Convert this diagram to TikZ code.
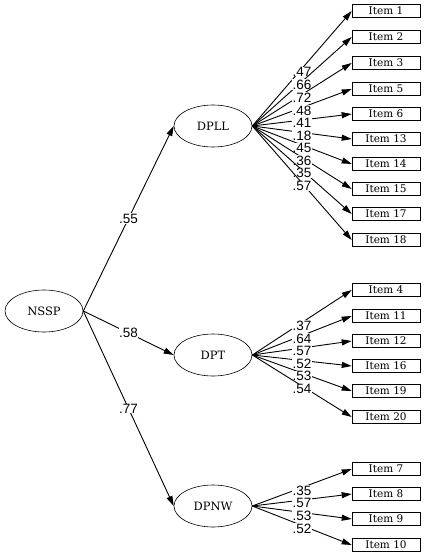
\documentclass[tikz,border=0pt]{standalone}
\usepackage{fontspec}
\setmainfont{DejaVu Serif}
\newfontfamily\lblfont{Liberation Sans}
\usetikzlibrary{arrows.meta,shapes.geometric}

\begin{document}
\begin{tikzpicture}[x=1pt, y=-1pt, line width=0.9pt,
  latent/.style={draw, ellipse, line width=0.6pt, minimum width=78pt, minimum height=42pt, inner sep=0pt, font=\fontsize{11.5}{13}\selectfont},
  item/.style={draw, rectangle, line width=0.6pt, minimum width=68pt, minimum height=13pt, inner sep=0pt, font=\fontsize{10.5}{12}\selectfont},
  arr/.style={-{Triangle[length=10pt,width=6pt]}},
  load/.style={midway, fill=white, inner sep=0.3pt, font=\fontsize{13.5}{15}\selectfont\lblfont}]
  \useasboundingbox (0,0) rectangle (425,554);
  \node[latent] (NSSP) at (44,311) {NSSP};
  \node[latent] (DPLL) at (213,126) {DPLL};
  \node[latent] (DPT)  at (213,355) {DPT};
  \node[latent] (DPNW) at (213,506) {DPNW};
  \draw[arr] (NSSP.east) -- node[load] {.55} (DPLL.west);
  \draw[arr] (NSSP.east) -- node[load] {.58} (DPT.west);
  \draw[arr] (NSSP.east) -- node[load] {.77} (DPNW.west);
  \foreach \n/\y/\w in {1/11/.47, 2/37/.66, 3/63/.72, 5/89/.48, 6/114/.41,
      13/139/.18, 14/164/.45, 15/189/.36, 17/214/.35, 18/240/.57} {
    \node[item] (i\n) at (386,\y) {Item \n};
    \draw[arr] (DPLL.east) -- node[load, yshift=-3pt] {\w} (i\n.west);
  }
  \foreach \n/\y/\w in {4/290/.37, 11/316/.64, 12/341/.57, 16/366/.52,
      19/391/.53, 20/417/.54} {
    \node[item] (i\n) at (386,\y) {Item \n};
    \draw[arr] (DPT.east) -- node[load, yshift=-3pt] {\w} (i\n.west);
  }
  \foreach \n/\y/\w in {7/469/.35, 8/494/.57, 9/519/.53, 10/545/.52} {
    \node[item] (i\n) at (386,\y) {Item \n};
    \draw[arr] (DPNW.east) -- node[load, yshift=-3pt] {\w} (i\n.west);
  }
\end{tikzpicture}
\end{document}
